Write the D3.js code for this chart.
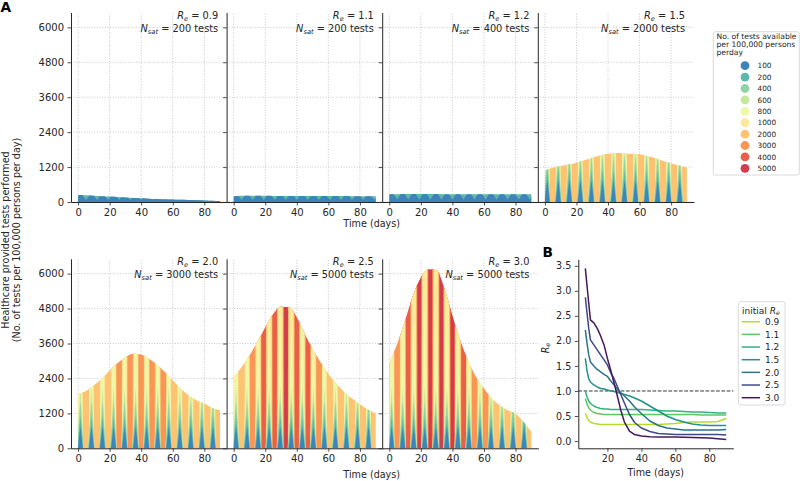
<!DOCTYPE html>
<html><head><meta charset="utf-8">
<script src="https://cdn.jsdelivr.net/npm/d3@7"></script>
<style>body{margin:0;background:#fff}svg{display:block}</style>
</head><body><svg id="c" width="800" height="481"></svg>
<script>
// ---------------- DATA ----------------
const capacities = [100, 200, 400, 600, 800, 1000, 2000, 3000, 4000, 5000];
const panelRe = ["0.9", "1.1", "1.2", "1.5", "2.0", "2.5", "3.0"];
const panelNsat = [200, 200, 400, 2000, 3000, 5000, 5000];
const envDays = [0, 5, 10, 15, 20, 25, 30, 35, 40, 45, 50, 55, 60, 65, 70, 75, 80, 85, 90];
const envR09 = [240, 235, 215, 200, 185, 170, 155, 140, 128, 115, 105, 95, 85, 75, 68, 62, 55, 45, 35];
const envR11 = [200, 215, 215, 212, 212, 210, 210, 210, 208, 208, 207, 205, 205, 203, 203, 200, 200, 200, 195];
const envR12 = [265, 270, 272, 272, 272, 272, 272, 270, 270, 270, 270, 270, 268, 268, 268, 266, 266, 265, 262];
const envR15 = [1080, 1180, 1240, 1290, 1350, 1430, 1520, 1600, 1660, 1680, 1670, 1660, 1640, 1580, 1500, 1410, 1330, 1250, 1180];
const envR20 = [1857, 1970, 2165, 2393, 2677, 2927, 3132, 3248, 3224, 3077, 2872, 2619, 2335, 2051, 1822, 1651, 1538, 1388, 1309];
const envR25 = [2448, 2790, 3190, 3645, 4158, 4615, 4865, 4842, 4500, 3932, 3419, 2961, 2564, 2222, 1935, 1709, 1515, 1333, 1197];
const envR30 = [2906, 3590, 4387, 5241, 5867, 6154, 6120, 5470, 4558, 3703, 3019, 2448, 2051, 1709, 1480, 1309, 1197, 909, 567];
// index (into capacities) of the layer that fills each week of each panel
const weekBgR09 = [1, 1, 1, 1, 1, 1, 1, 1, 1, 1, 1, 1, 1];
const weekBgR11 = [1, 1, 1, 1, 1, 1, 1, 1, 1, 1, 1, 1, 1];
const weekBgR12 = [1, 1, 1, 1, 1, 1, 1, 1, 1, 1, 1, 1, 1];
const weekBgR15 = [6, 6, 6, 6, 6, 6, 6, 6, 6, 6, 6, 6, 6];
const weekBgR20 = [6, 6, 6, 7, 7, 7, 7, 7, 6, 6, 6, 6, 6];
const weekBgR25 = [6, 7, 8, 8, 9, 8, 8, 7, 6, 6, 6, 6, 6];
const weekBgR30 = [7, 8, 9, 9, 9, 9, 8, 7, 7, 6, 6, 6, 6];
// weekly spike of each capacity layer: day offsets around the weekly peak day, peak height in tests
const spikeDayInWeek = 1.5;
const spikesLowR09 = [{layer: 0, left: 4.5, right: 4.5, peak: 320}];
const spikesLowR11 = [{layer: 0, left: 4.5, right: 4.5, peak: 320}];
const spikesLowR12 = [{layer: 0, left: 4.5, right: 4.5, peak: 380}];
const spikesHigh = [
  {layer: 8, left: 2.6, right: 2.6, peak: 100000},
  {layer: 7, left: 2.2, right: 2.2, peak: 100000},
  {layer: 6, left: 1.9, right: 1.9, peak: 100000},
  {layer: 5, left: 1.6, right: 1.5, peak: 100000},
  {layer: 4, left: 1.9, right: 1.6, peak: 5000},
  {layer: 3, left: 2.3, right: 2.0, peak: 2100},
  {layer: 2, left: 2.2, right: 1.9, peak: 1600},
  {layer: 1, left: 1.9, right: 1.7, peak: 1100},
  {layer: 0, left: 1.6, right: 1.5, peak: 750}
];
const xTicksA = [0, 20, 40, 60, 80];
const yTicksA = [0, 1200, 2400, 3600, 4800, 6000];

// Panel B
const initialRe = ["0.9", "1.1", "1.2", "1.5", "2.0", "2.5", "3.0"];
const bDays = [7, 8, 9, 10, 12, 14, 16, 18, 20, 22, 24, 26, 28, 30, 33, 36, 40, 45, 50, 55, 60, 65, 70, 75, 80, 85, 90];
const reLine09 = [0.55, 0.47, 0.41, 0.38, 0.35, 0.34, 0.33, 0.33, 0.33, 0.33, 0.33, 0.33, 0.33, 0.33, 0.33, 0.33, 0.33, 0.33, 0.33, 0.34, 0.35, 0.37, 0.38, 0.38, 0.38, 0.39, 0.45];
const reLine11 = [0.85, 0.74, 0.66, 0.62, 0.57, 0.55, 0.54, 0.53, 0.53, 0.53, 0.53, 0.53, 0.53, 0.53, 0.53, 0.53, 0.53, 0.53, 0.53, 0.53, 0.53, 0.53, 0.53, 0.52, 0.52, 0.52, 0.52];
const reLine12 = [1.0, 0.88, 0.8, 0.75, 0.7, 0.67, 0.65, 0.64, 0.64, 0.63, 0.63, 0.63, 0.63, 0.63, 0.63, 0.63, 0.63, 0.62, 0.61, 0.6, 0.6, 0.59, 0.58, 0.58, 0.57, 0.56, 0.56];
const reLine15 = [1.65, 1.4, 1.24, 1.18, 1.12, 1.08, 1.05, 1.04, 1.02, 1.0, 0.99, 0.97, 0.95, 0.93, 0.9, 0.86, 0.8, 0.7, 0.6, 0.5, 0.43, 0.38, 0.34, 0.32, 0.31, 0.31, 0.31];
const reLine20 = [2.22, 1.95, 1.72, 1.58, 1.5, 1.43, 1.38, 1.33, 1.29, 1.2, 1.12, 1.03, 0.96, 0.9, 0.8, 0.68, 0.55, 0.4, 0.31, 0.26, 0.24, 0.22, 0.22, 0.22, 0.22, 0.22, 0.23];
const reLine25 = [2.87, 2.55, 2.25, 2.02, 1.92, 1.82, 1.72, 1.62, 1.52, 1.36, 1.24, 1.08, 0.92, 0.76, 0.53, 0.37, 0.26, 0.19, 0.15, 0.14, 0.13, 0.13, 0.13, 0.13, 0.13, 0.13, 0.12];
const reLine30 = [3.45, 3.1, 2.75, 2.42, 2.36, 2.25, 2.1, 1.92, 1.65, 1.41, 1.15, 0.88, 0.6, 0.38, 0.2, 0.13, 0.1, 0.085, 0.08, 0.08, 0.08, 0.075, 0.07, 0.065, 0.06, 0.045, 0.03];
const xTicksB = [20, 40, 60, 80];
const yTicksB = [0, 0.5, 1.0, 1.5, 2.0, 2.5, 3.0, 3.5];

// ---------------- STYLE ----------------
const capColors = ["#3d84bb", "#5db8aa", "#92d3a4", "#c6e89e", "#eef8a9", "#fee99b", "#fdc373", "#f99656", "#e95f47", "#d23c4e"];
const reColors = ["#b5de2b", "#5ec962", "#2fb47c", "#21918c", "#2c718e", "#3e4a89", "#46185e"];
const FONT = "DejaVu Sans, sans-serif";
const INK = "#262626";

const svg = d3.select("#c");

const panels = [
  {env: envR09, bg: weekBgR09, spikes: spikesLowR09, col: 0, row: 0},
  {env: envR11, bg: weekBgR11, spikes: spikesLowR11, col: 1, row: 0},
  {env: envR12, bg: weekBgR12, spikes: spikesLowR12, col: 2, row: 0},
  {env: envR15, bg: weekBgR15, spikes: spikesHigh, col: 3, row: 0},
  {env: envR20, bg: weekBgR20, spikes: spikesHigh, col: 0, row: 1},
  {env: envR25, bg: weekBgR25, spikes: spikesHigh, col: 1, row: 1},
  {env: envR30, bg: weekBgR30, spikes: spikesHigh, col: 2, row: 1}
];

const colLeft = [71, 226.6, 382.2, 537.8];
const panelW = 156.2;
const rowBase = [202, 448.3];
const axH = 189.5;
const xDomainA = [-4.5, 94.5];
const yDomainA = [0, 6510];
const weeks = d3.range(0, 14);

function styleAxis(g, fs) {
  g.attr("font-family", FONT).attr("font-size", fs);
  g.selectAll("path.domain").attr("stroke", INK).attr("stroke-width", 1);
  g.selectAll(".tick line").attr("stroke", INK).attr("stroke-width", 0.8);
  g.selectAll(".tick text").attr("fill", INK);
}

function mathLabel(sel, sym, sub, rest, fs) {
  sel.append("tspan").attr("font-style", "italic").text(sym);
  sel.append("tspan").attr("font-style", "italic").attr("font-size", fs * 0.68).attr("dy", fs * 0.2).text(sub);
  sel.append("tspan").attr("dy", -fs * 0.2).text(rest);
}

panels.forEach((p, i) => {
  const left = colLeft[p.col], base = rowBase[p.row];
  const x = d3.scaleLinear().domain(xDomainA).range([left, left + panelW]);
  const y = d3.scaleLinear().domain(yDomainA).range([base, base - axH]);
  const g = svg.append("g");

  // grid
  g.append("g").selectAll("line").data(xTicksA).join("line")
    .attr("x1", d => x(d)).attr("x2", d => x(d)).attr("y1", y.range()[0]).attr("y2", y.range()[1])
    .attr("stroke", "#bdbdbd").attr("stroke-width", 0.8).attr("stroke-dasharray", "1,1.6");
  g.append("g").selectAll("line").data(yTicksA).join("line")
    .attr("x1", x.range()[0]).attr("x2", x.range()[1]).attr("y1", d => y(d)).attr("y2", d => y(d))
    .attr("stroke", "#bdbdbd").attr("stroke-width", 0.8).attr("stroke-dasharray", "1,1.6");

  // clip to envelope
  const clipId = "clipA" + i;
  const area = d3.area().x((d, k) => x(envDays[k])).y0(y(0)).y1(d => y(d)).curve(d3.curveMonotoneX);
  svg.append("clipPath").attr("id", clipId).append("path").attr("d", area(p.env));
  const fills = g.append("g").attr("clip-path", `url(#${clipId})`);

  // background layer per week
  fills.selectAll("rect").data(weeks.slice(0, 13)).join("rect")
    .attr("x", w => x(7 * w)).attr("width", w => x(7 * w + 7) - x(7 * w) + 0.3)
    .attr("y", y(yDomainA[1])).attr("height", y(0) - y(yDomainA[1]))
    .attr("fill", w => capColors[p.bg[w]]);

  // spikes, back to front
  p.spikes.forEach(s => {
    weeks.forEach(w => {
      const bgIdx = p.bg[Math.min(w, 12)];
      if (s.layer >= bgIdx) return;
      const c = 7 * w + spikeDayInWeek;
      const pts = [[x(c - s.left), y(0)], [x(c), y(s.peak)], [x(c + s.right), y(0)]];
      fills.append("path").attr("d", "M" + pts.join("L") + "Z").attr("fill", capColors[s.layer]);
    });
  });

  // axes
  const ay = g.append("g").attr("transform", `translate(${left},0)`)
    .call(d3.axisLeft(y).tickValues(yTicksA).tickSize(3.5).tickPadding(3.5).tickSizeOuter(0)
      .tickFormat(p.col === 0 ? d => d : () => ""));
  styleAxis(ay, 10);
  const ax = g.append("g").attr("transform", `translate(0,${base})`)
    .call(d3.axisBottom(x).tickValues(xTicksA).tickSize(3.5).tickPadding(3.5).tickSizeOuter(0));
  styleAxis(ax, 10);

  // panel annotations
  const tx = x.range()[1] - 9;
  const t1 = g.append("text").attr("x", tx).attr("y", base - axH + 6.6).attr("text-anchor", "end")
    .attr("font-family", FONT).attr("font-size", 9.8).attr("fill", INK);
  mathLabel(t1, "R", "e", " = " + panelRe[i], 9.8);
  const t2 = g.append("text").attr("x", tx).attr("y", base - axH + 19.3).attr("text-anchor", "end")
    .attr("font-family", FONT).attr("font-size", 9.8).attr("fill", INK);
  mathLabel(t2, "N", "sat", " = " + panelNsat[i] + " tests", 9.8);
});

// shared labels
[226.8, 478].forEach(yy => {
  svg.append("text").attr("x", 371.7).attr("y", yy).attr("text-anchor", "middle")
    .attr("font-family", FONT).attr("font-size", 9.6).attr("fill", INK).text("Time (days)");
});
const yl = svg.append("text").attr("transform", "translate(9,240) rotate(-90)").attr("text-anchor", "middle")
  .attr("font-family", FONT).attr("font-size", 9.6).attr("fill", INK);
yl.append("tspan").attr("x", 0).attr("y", 0).text("Healthcare provided tests performed");
yl.append("tspan").attr("x", 0).attr("y", 10.5).text("(No. of tests per 100,000 persons per day)");

svg.append("text").attr("x", 0.5).attr("y", 11.8).attr("font-family", FONT).attr("font-weight", "bold")
  .attr("font-size", 13.7).attr("fill", "#000").text("A");
svg.append("text").attr("x", 542.5).attr("y", 256.7).attr("font-family", FONT).attr("font-weight", "bold")
  .attr("font-size", 13.7).attr("fill", "#000").text("B");

// legend A
const legA = svg.append("g");
legA.append("rect").attr("x", 713.3).attr("y", 31.7).attr("width", 86).attr("height", 143.3)
  .attr("rx", 2).attr("fill", "#fff").attr("stroke", "#d0d0d0").attr("stroke-width", 0.8);
["No. of tests available", "per 100,000 persons", "perday"].forEach((t, k) => {
  legA.append("text").attr("x", 716.5).attr("y", 39.3 + k * 7.6).attr("font-family", FONT)
    .attr("font-size", 7.6).attr("fill", INK).text(t);
});
const legY = d3.scaleLinear().domain([0, capacities.length - 1]).range([65.7, 168.3]);
capacities.forEach((c, k) => {
  legA.append("circle").attr("cx", 745).attr("cy", legY(k)).attr("r", 4.4).attr("fill", capColors[k]);
  legA.append("text").attr("x", 757.5).attr("y", legY(k) + 2.6).attr("font-family", FONT)
    .attr("font-size", 7.3).attr("fill", INK).text(c);
});

// ---------------- Panel B ----------------
const bx = d3.scaleLinear().domain([2.85, 94.15]).range([578.3, 733.3]);
const by = d3.scaleLinear().domain([-0.145, 3.63]).range([448.3, 259.3]);
const gB = svg.append("g");
gB.append("line").attr("x1", bx.range()[0]).attr("x2", bx.range()[1]).attr("y1", by(1)).attr("y2", by(1))
  .attr("stroke", "#333").attr("stroke-width", 1).attr("stroke-dasharray", "3.7,1.6");
const reLines = [reLine09, reLine11, reLine12, reLine15, reLine20, reLine25, reLine30];
const line = d3.line().x((d, k) => bx(bDays[k])).y(d => by(d));
reLines.forEach((vals, k) => {
  gB.append("path").attr("d", line(vals)).attr("fill", "none").attr("stroke", reColors[k])
    .attr("stroke-width", 1.5).attr("stroke-linejoin", "round");
});
const bAy = gB.append("g").attr("transform", `translate(${bx.range()[0]},0)`)
  .call(d3.axisLeft(by).tickValues(yTicksB).tickSize(3.5).tickPadding(3.5).tickSizeOuter(0).tickFormat(d3.format(".1f")));
styleAxis(bAy, 9.6);
const bAx = gB.append("g").attr("transform", `translate(0,${by.range()[0]})`)
  .call(d3.axisBottom(bx).tickValues(xTicksB).tickSize(3.5).tickPadding(3.5).tickSizeOuter(0));
styleAxis(bAx, 9.6);
svg.append("text").attr("x", 655.8).attr("y", 475.5).attr("text-anchor", "middle")
  .attr("font-family", FONT).attr("font-size", 9.6).attr("fill", INK).text("Time (days)");
const byl = svg.append("text").attr("transform", "translate(548.5,348) rotate(-90)").attr("text-anchor", "middle")
  .attr("font-family", FONT).attr("font-size", 9.6).attr("fill", INK);
mathLabel(byl, "R", "e", "", 9.6);

// legend B
const legB = svg.append("g");
legB.append("rect").attr("x", 738.3).attr("y", 301.7).attr("width", 46.7).attr("height", 103.3)
  .attr("rx", 2).attr("fill", "#fff").attr("stroke", "#d0d0d0").attr("stroke-width", 0.8);
const lt = legB.append("text").attr("x", 742).attr("y", 313.5).attr("font-family", FONT)
  .attr("font-size", 9).attr("fill", INK);
lt.append("tspan").text("initial ");
mathLabel(lt, "R", "e", "", 9);
const legBY = d3.scaleLinear().domain([0, initialRe.length - 1]).range([321.7, 397.7]);
initialRe.forEach((r, k) => {
  legB.append("line").attr("x1", 741.7).attr("x2", 760).attr("y1", legBY(k)).attr("y2", legBY(k))
    .attr("stroke", reColors[k]).attr("stroke-width", 1.5);
  legB.append("text").attr("x", 765).attr("y", legBY(k) + 3.3).attr("font-family", FONT)
    .attr("font-size", 9).attr("fill", INK).text(r);
});
</script>
</body></html>
